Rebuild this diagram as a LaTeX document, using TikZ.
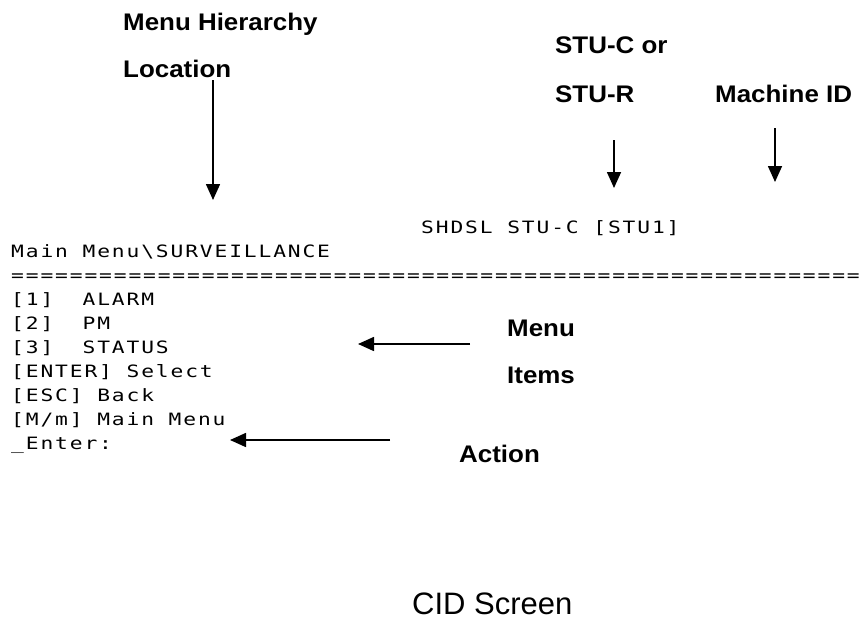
\documentclass[tikz,border=0pt]{standalone}
\usepackage{fontspec}
\setmainfont{Liberation Sans}
\newfontfamily\termfont[FakeStretch=1.25,LetterSpace=11]{DejaVu Sans Mono}
\newfontfamily\labelfont[FakeStretch=1.08]{Liberation Sans Bold}
\usetikzlibrary{arrows.meta}
\begin{document}
\begin{tikzpicture}[x=1pt,y=-1pt,
  term/.style={anchor=base west,inner sep=0pt,font=\termfont\fontsize{17}{20}\selectfont},
  callout/.style={anchor=base west,inner sep=0pt,font=\labelfont\fontsize{24}{28}\selectfont},
  pointer/.style={line width=1.6pt,-{Triangle[length=16pt,width=14pt]}}]
\useasboundingbox (0,0) rectangle (864,619);

% terminal screen text
\node[term] (machine) at (421,233) {SHDSL STU-C [STU1]};
\node[term] (path)    at (11,257) {Main Menu\textbackslash SURVEILLANCE};
\node[term] (rule)    at (11,281) {==========================================================};
\node[term] (item1)   at (11,305) {[1]\ \ ALARM};
\node[term] (item2)   at (11,329) {[2]\ \ PM};
\node[term] (item3)   at (11,353) {[3]\ \ STATUS};
\node[term] (enter)   at (11,377) {[ENTER] Select};
\node[term] (esc)     at (11,401) {[ESC] Back};
\node[term] (mainm)   at (11,425) {[M/m] Main Menu};
\node[term] (prompt)  at (11,449) {\_Enter:};

% callout labels
\node[callout] (hier1) at (123,30)  {Menu Hierarchy};
\node[callout] (hier2) at (123,77)  {Location};
\node[callout] (stu1)  at (555,53)  {STU-C or};
\node[callout] (stu2)  at (555,102) {STU-R};
\node[callout] (mid)   at (715,102) {Machine ID};
\node[callout] (mi1)   at (507,336) {Menu};
\node[callout] (mi2)   at (507,383) {Items};
\node[callout] (act)   at (459,462) {Action};

% arrow end points
\coordinate (hierS) at (213,80);   \coordinate (hierE) at (213,200);
\coordinate (stuS)  at (614,140);  \coordinate (stuE)  at (614,188);
\coordinate (midS)  at (775,128);  \coordinate (midE)  at (775,182);
\coordinate (miS)   at (470,344);  \coordinate (miE)   at (358,344);
\coordinate (actS)  at (390,440);  \coordinate (actE)  at (230,440);

\draw[pointer] (hierS) -- (hierE);
\draw[pointer] (stuS) -- (stuE);
\draw[pointer] (midS) -- (midE);
\draw[pointer] (miS) -- (miE);
\draw[pointer] (actS) -- (actE);

% caption
\node[anchor=base west,inner sep=0pt,font=\fontsize{31}{36}\selectfont] (cap) at (412,614) {CID Screen};
\end{tikzpicture}
\end{document}
